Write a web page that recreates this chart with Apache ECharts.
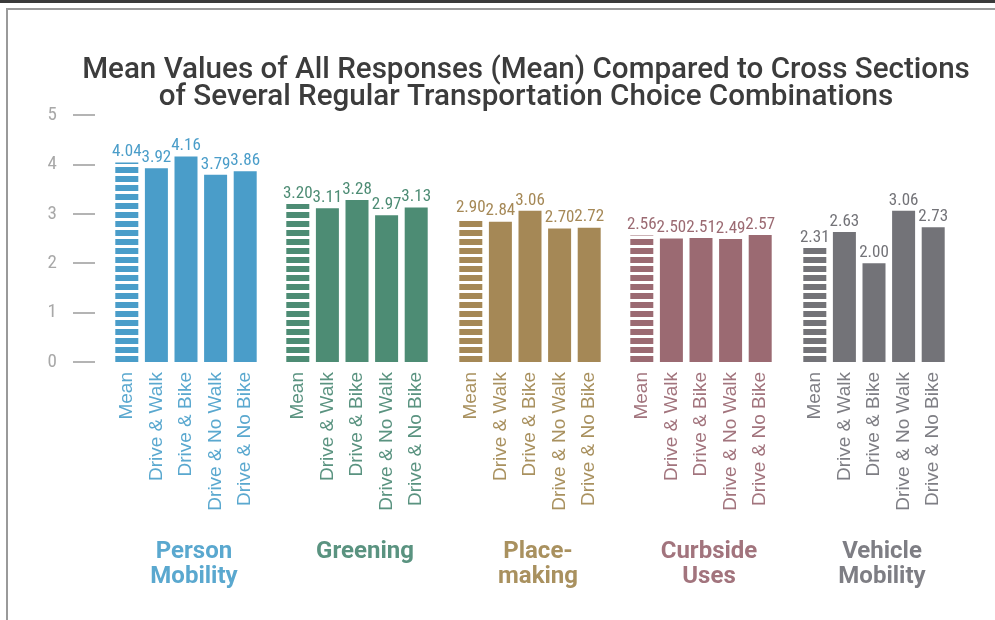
<!DOCTYPE html>
<html><head><meta charset="utf-8">
<script src="https://cdn.jsdelivr.net/npm/echarts@6/dist/echarts.min.js"></script>
<style>html,body{margin:0;padding:0;background:#fff}#c{width:995px;height:620px}</style>
</head><body><div id="c"></div>
<script>
const categories = ['Mean', 'Drive & Walk', 'Drive & Bike', 'Drive & No Walk', 'Drive & No Bike'];
const groupNames = ['Person\nMobility', 'Greening', 'Place-\nmaking', 'Curbside\nUses', 'Vehicle\nMobility'];
const personMobility = [4.04, 3.92, 4.16, 3.79, 3.86];
const greening = [3.20, 3.11, 3.28, 2.97, 3.13];
const placemaking = [2.90, 2.84, 3.06, 2.70, 2.72];
const curbsideUses = [2.56, 2.50, 2.51, 2.49, 2.57];
const vehicleMobility = [2.31, 2.63, 2.00, 3.06, 2.73];
const yTicks = [0, 1, 2, 3, 4, 5];
const titleText = 'Mean Values of All Responses (Mean) Compared to Cross Sections\nof Several Regular Transportation Choice Combinations';

const groupValues = [personMobility, greening, placemaking, curbsideUses, vehicleMobility];
const barColors = ['#4a9dc9', '#4d8c74', '#a58856', '#9b6a72', '#737378'];
const nameColors = ['#5aa8cf', '#5a9380', '#a9915f', '#a2747d', '#7e7e84'];
const gridLefts = [112, 283, 456, 627, 800];
const COND = '"Roboto Condensed", "DejaVu Sans Condensed", sans-serif';

function stripe(color) {
  const cv = document.createElement('canvas');
  cv.width = 4; cv.height = 9;
  const ctx = cv.getContext('2d');
  ctx.fillStyle = color;
  ctx.fillRect(0, 5, 4, 4);
  ctx.fillRect(0, 0, 4, 2);
  return { image: cv, repeat: 'repeat' };
}

const grids = [], xAxes = [], yAxes = [], series = [];
for (let i = 0; i < 5; i++) {
  grids.push({ left: gridLefts[i], width: 148, top: 115, height: 247 });
  xAxes.push({
    type: 'category', gridIndex: i, data: categories,
    axisLine: { show: false }, axisTick: { show: false },
    axisLabel: { rotate: 90, interval: 0, margin: 10, color: nameColors[i], fontSize: 19, fontFamily: '"Liberation Sans", Arial, sans-serif' },
    name: groupNames[i], nameLocation: 'middle', nameGap: 177,
    nameTextStyle: { color: nameColors[i], fontSize: 24, fontWeight: 'bold', lineHeight: 25, fontFamily: 'Roboto, sans-serif', padding: [0, 0, 0, 16], verticalAlign: 'top' }
  });
  yAxes.push(i === 0 ? {
    type: 'value', gridIndex: 0, min: yTicks[0], max: yTicks[yTicks.length - 1], interval: 1, offset: 17,
    axisLine: { show: false },
    axisTick: { show: true, length: 22, lineStyle: { color: '#b4b4b4', width: 2 } },
    axisLabel: { margin: 38, color: '#a8a8a8', fontSize: 19, fontFamily: COND },
    splitLine: { show: false }
  } : {
    type: 'value', gridIndex: i, min: 0, max: 5, interval: 1, show: false, splitLine: { show: false }
  });
  series.push({
    type: 'bar', xAxisIndex: i, yAxisIndex: i, barWidth: 23,
    data: groupValues[i].map((v, j) => j === 0 ? { value: v, itemStyle: { color: stripe(barColors[i]) } } : v),
    itemStyle: { color: barColors[i] },
    label: { show: true, position: 'top', distance: 2, color: barColors[i], fontSize: 17,
      fontFamily: COND, formatter: p => p.value.toFixed(2) }
  });
}

const chart = echarts.init(document.getElementById('c'), null, { renderer: 'canvas' });
chart.setOption({
  animation: false,
  backgroundColor: '#ffffff',
  grid: grids, xAxis: xAxes, yAxis: yAxes, series: series,
  graphic: [
    { type: 'rect', shape: { x: 0, y: 0, width: 995, height: 3 }, style: { fill: '#3a3a3a' } },
    { type: 'rect', shape: { x: 6, y: 8, width: 989, height: 2 }, style: { fill: '#9a9a9a' } },
    { type: 'rect', shape: { x: 6, y: 8, width: 2, height: 612 }, style: { fill: '#9a9a9a' } },
    { type: 'text', x: 526, y: 57, style: { text: titleText, fill: '#3c3c3c', textAlign: 'center',
      font: '500 29.6px Roboto, sans-serif', lineHeight: 27 } }
  ]
});
</script></body></html>
